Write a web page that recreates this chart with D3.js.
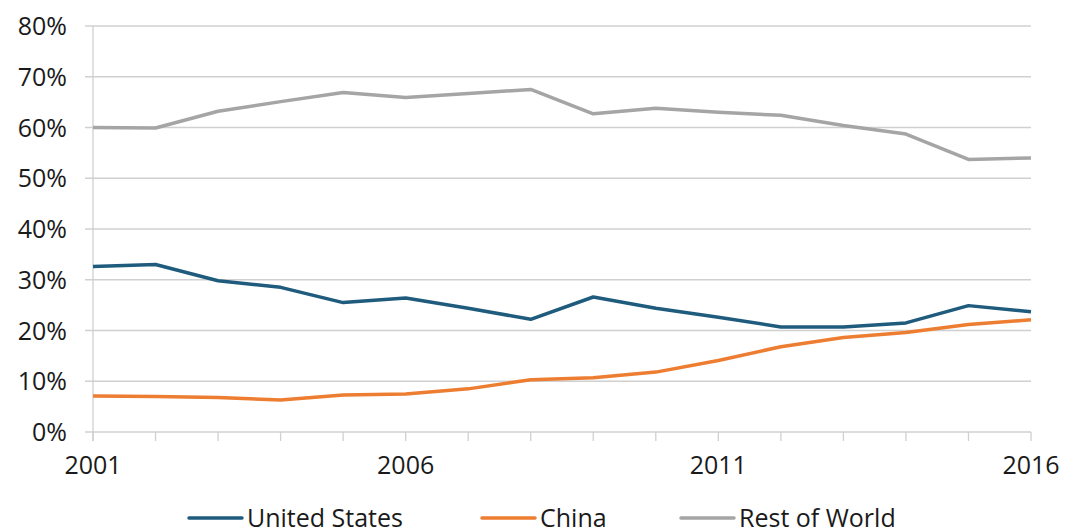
<!DOCTYPE html>
<html>
<head>
<meta charset="utf-8">
<script src="https://cdnjs.cloudflare.com/ajax/libs/d3/7.8.5/d3.min.js"></script>
<style>
  body { margin: 0; background: #fff; }
  text { font-family: "Open Sans", Lato, sans-serif; fill: #1a1a1a; }
</style>
</head>
<body>
<div class="linechart"></div>
<script>
var years = d3.range(2001, 2017);
var yTicks = [0, 10, 20, 30, 40, 50, 60, 70, 80];
var xTickLabels = [2001, 2006, 2011, 2016];

var unitedStates = [32.6, 33.0, 29.8, 28.5, 25.5, 26.4, 24.4, 22.2, 26.6, 24.4, 22.6, 20.7, 20.7, 21.5, 24.9, 23.7];
var china = [7.1, 7.0, 6.8, 6.3, 7.3, 7.5, 8.5, 10.3, 10.7, 11.8, 14.1, 16.8, 18.6, 19.6, 21.2, 22.1];
var restOfWorld = [60.0, 59.9, 63.2, 65.1, 66.9, 65.9, 66.7, 67.5, 62.7, 63.8, 63.0, 62.4, 60.4, 58.7, 53.7, 54.0];

var seriesNames = ["United States", "China", "Rest of World"];
var seriesColors = ["#1f5b7d", "#ed7d31", "#a5a5a5"];
var seriesValues = [unitedStates, china, restOfWorld];

var margin = {top: 26, right: 34, bottom: 97, left: 93};
var width = 1065 - margin.left - margin.right,
    height = 529 - margin.top - margin.bottom;

var svg = d3.select(".linechart").append("svg")
  .attr("width", 1065)
  .attr("height", 529);

var chart = svg.append("g")
  .attr("transform", "translate(" + margin.left + "," + margin.top + ")");

var xc = d3.scaleLinear().domain([2001, 2016]).range([0, width]);
var yc = d3.scaleLinear().domain([0, 80]).range([height, 0]);

// gridlines
chart.append("g")
  .selectAll("line")
  .data(yTicks)
  .enter().append("line")
  .attr("x1", -8)
  .attr("x2", width)
  .attr("y1", function(d) { return yc(d); })
  .attr("y2", function(d) { return yc(d); })
  .attr("stroke", "#d0d0d0")
  .attr("stroke-width", 1.3);

// y axis line
chart.append("line")
  .attr("x1", 0).attr("x2", 0)
  .attr("y1", 0).attr("y2", height + 9)
  .attr("stroke", "#d0d0d0")
  .attr("stroke-width", 1.3);

// x tick marks
chart.append("g")
  .selectAll("line")
  .data(years)
  .enter().append("line")
  .attr("x1", function(d) { return xc(d); })
  .attr("x2", function(d) { return xc(d); })
  .attr("y1", height)
  .attr("y2", height + 9)
  .attr("stroke", "#d0d0d0")
  .attr("stroke-width", 1.3);

// y labels
chart.append("g")
  .selectAll("text")
  .data(yTicks)
  .enter().append("text")
  .attr("x", -26)
  .attr("y", function(d) { return yc(d) + 9; })
  .attr("text-anchor", "end")
  .style("font-size", "25px")
  .text(function(d) { return d + "%"; });

// x labels
chart.append("g")
  .selectAll("text")
  .data(xTickLabels)
  .enter().append("text")
  .attr("x", function(d) { return xc(d); })
  .attr("y", height + 42)
  .attr("text-anchor", "middle")
  .style("font-size", "25px")
  .text(function(d) { return d; });

var line = d3.line()
  .x(function(d, i) { return xc(years[i]); })
  .y(function(d) { return yc(d); });

// rest of world first, then china, then US on top
[2, 1, 0].forEach(function(k) {
  chart.append("path")
    .datum(seriesValues[k])
    .attr("d", line)
    .attr("fill", "none")
    .attr("stroke", seriesColors[k])
    .attr("stroke-width", 3.5)
    .attr("stroke-linejoin", "round");
});

// legend
var legendX = [189, 482, 681];
var legend = svg.append("g");
seriesNames.forEach(function(name, i) {
  legend.append("line")
    .attr("x1", legendX[i]).attr("x2", legendX[i] + 53)
    .attr("y1", 518).attr("y2", 518)
    .attr("stroke", seriesColors[i])
    .attr("stroke-width", 3.5)
    .attr("stroke-linecap", "round");
  legend.append("text")
    .attr("x", legendX[i] + 58)
    .attr("y", 527)
    .style("font-size", "25px")
    .text(name);
});
</script>
</body>
</html>
